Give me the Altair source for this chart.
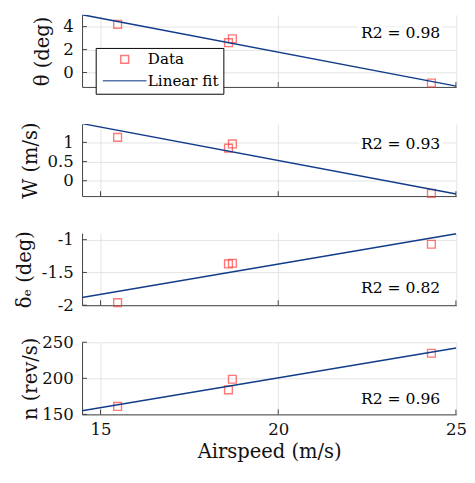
import altair as alt
import pandas as pd

# ---- data ----
airspeed = [15.48, 18.60, 18.71, 24.31]
theta = [4.20, 2.60, 2.94, -0.92]
w_vel = [1.13, 0.85, 0.96, -0.33]
delta_e = [-1.96, -1.37, -1.36, -1.07]
rev = [161.0, 184.0, 198.7, 234.8]

r2_text = ["R2 = 0.98", "R2 = 0.93", "R2 = 0.82", "R2 = 0.96"]
r2_y = [2.97, 0.83, -1.81, 164.7]
r2_x = 24.56

y_titles = ["θ (deg)", "W (m/s)", "δₑ (deg)", "n (rev/s)"]
y_domains = [[-1.26, 5.03], [-0.40, 1.48], [-2.0, -0.9], [150, 250]]
y_ticks = [[0, 2, 4], [0, 0.5, 1], [-2, -1.5, -1], [150, 200, 250]]
title_pad = [11, 7, 7, 1]
x_domain = [14.48, 25.01]
x_ticks = [15, 20, 25]
series = ["Data", "Linear fit"]

FONT = "DejaVu Serif"
RED = "#ff4040"
BLUE = "#123c8a"
AX = "#404040"
W, H = 384, 74


def panel(i, yvals, bottom=False):
    df = pd.DataFrame({"x": airspeed, "y": yvals, "series": "Data"})
    xs = alt.Scale(domain=x_domain, nice=False, zero=False)
    ys = alt.Scale(domain=y_domains[i], nice=False, zero=False)
    xaxis = alt.Axis(values=x_ticks, tickCount=10, grid=True, labels=bottom, ticks=False,
                     title="Airspeed (m/s)" if bottom else None,
                     labelOverlap=False, labelFlush=False,
                     labelPadding=8, titlePadding=4)
    yaxis = alt.Axis(values=y_ticks[i], tickCount=10, grid=True, ticks=False,
                     title=y_titles[i], labelExpr="datum.value + ''",
                     labelOverlap=False, labelFlush=False,
                     labelPadding=9, titlePadding=title_pad[i])
    base = alt.Chart(df)
    enc = dict(x=alt.X("x:Q", scale=xs, axis=xaxis),
               y=alt.Y("y:Q", scale=ys, axis=yaxis))
    if i == 0:
        leg = alt.Legend(orient="none", legendX=14, legendY=34, title=None,
                         fillColor="white", strokeColor="black", padding=4,
                         symbolSize=64, symbolStrokeWidth=1.5,
                         symbolOffset=18, labelOffset=16, rowPadding=5,
                         labelFont=FONT, labelFontSize=15.5, labelColor="black")
        pts = base.mark_point(filled=False, size=64, strokeWidth=1.4).encode(
            color=alt.Color("series:N", scale=alt.Scale(domain=series, range=[RED, BLUE]), legend=leg),
            shape=alt.Shape("series:N", scale=alt.Scale(domain=series, range=["square", "M-5.6,0H5.6"]), legend=leg),
            **enc)
    else:
        pts = base.mark_point(shape="square", filled=False, size=64,
                              strokeWidth=1.4, color=RED).encode(**enc)
    line = base.transform_regression("x", "y", extent=x_domain).mark_line(
        color=BLUE, strokeWidth=1.5, clip=True).encode(x="x:Q", y="y:Q")
    tdf = pd.DataFrame({"x": [r2_x], "y": [r2_y[i]], "label": [r2_text[i]]})
    halo = alt.Chart(tdf).mark_text(align="right", baseline="alphabetic", font=FONT,
                                    fontSize=16, stroke="white", strokeWidth=8,
                                    fill="white").encode(x="x:Q", y="y:Q", text="label:N")
    txt = alt.Chart(tdf).mark_text(align="right", baseline="alphabetic", font=FONT,
                                   fontSize=16, color="black").encode(x="x:Q", y="y:Q", text="label:N")
    yt = alt.Chart(pd.DataFrame({"y": y_ticks[i]})).mark_rule(color=AX, strokeWidth=1).encode(
        y="y:Q", x=alt.value(0), x2=alt.value(5))
    xt = alt.Chart(pd.DataFrame({"x": x_ticks})).mark_rule(color=AX, strokeWidth=1).encode(
        x="x:Q", y=alt.value(H), y2=alt.value(H - 5))
    return alt.layer(pts, line, halo, txt, yt, xt).properties(width=W, height=H)


chart = alt.vconcat(
    panel(0, theta),
    panel(1, w_vel),
    panel(2, delta_e),
    panel(3, rev, bottom=True),
    spacing=38,
    bounds="flush",
).properties(
    padding={"top": 1, "left": 7, "right": 0, "bottom": 0}
).configure_view(stroke=None).configure_axis(
    domainColor=AX, domainWidth=1, gridColor="#e3e3e3", gridWidth=1,
    labelFont=FONT, labelFontSize=17, labelColor="#111111",
    labelOverlap=False,
    titleFont=FONT, titleFontSize=20, titleColor="#111111", titleFontWeight="normal",
)

chart.save("out.html", embed_options={"renderer": "svg", "actions": False})
